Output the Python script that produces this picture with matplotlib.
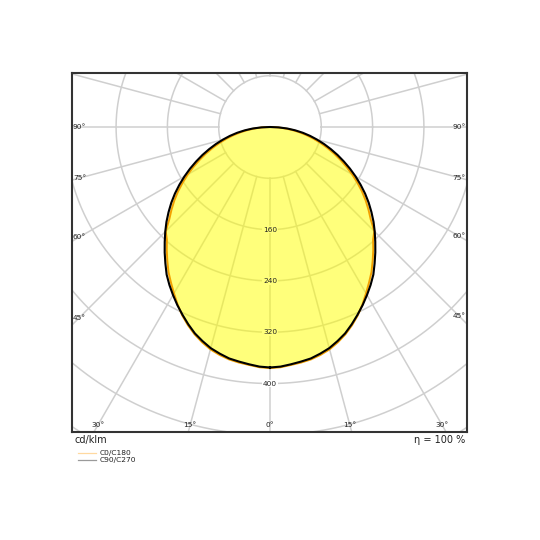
import numpy as np
import matplotlib
matplotlib.use("Agg")
import matplotlib.pyplot as plt

# Data: luminous intensity distribution (cd/klm) vs gamma angle (deg from nadir)
gamma = [0, 2.5, 5, 7.5, 10, 12.5, 15, 17.5, 20, 22.5, 25, 27.5, 30, 32.5, 35, 37.5,
         40, 42.5, 45, 47.5, 50, 52.5, 55, 57.5, 60, 62.5, 65, 67.5, 70, 72.5, 75,
         77.5, 80, 82.5, 85, 87.5, 90]
c0_c180 = [376, 375, 372.5, 370.5, 368, 364, 359, 352, 344, 334.5, 324, 312, 299.5, 287.5,
           276, 263, 250.5, 238, 230, 213, 200.5, 188, 175, 161.5, 148, 134.5, 121, 108,
           95, 82.5, 70, 58, 46, 34, 22, 10.5, 0]
c90_c270 = [375, 374, 371.5, 369, 366.5, 362, 357, 350, 342.5, 333, 323, 313, 302.5, 292,
            281, 268, 255.5, 243, 231, 219, 206.5, 194, 181, 167.5, 154, 140.5, 127, 114,
            101, 88.5, 76, 64, 52, 39.5, 27, 13.5, 0]
radius_ticks = [160, 240, 320, 400]
grid_radii = [80, 160, 240, 320, 400, 480, 560, 640]
side_labels = [90, 75, 60, 45]
bottom_labels = [30, 15, 0, 15, 30]
unit_label = "cd/klm"
eta_label = "η = 100 %"
legend_names = ["C0/C180", "C90/C270"]

W = H = 540
fig = plt.figure(figsize=(5.4, 5.4), dpi=100)
L, R, T, B = 72.0, 466.7, 72.7, 432.3
ax = fig.add_axes([L / W, 1 - B / H, (R - L) / W, (B - T) / H])
cx, cy = 270.0, 127.0
s = 0.6413  # px per cd/klm
xmin, xmax = (L - cx) / s, (R - cx) / s
ymin, ymax = -(B - cy) / s, (cy - T) / s
ax.set_xlim(xmin, xmax)
ax.set_ylim(ymin, ymax)
ax.set_xticks([])
ax.set_yticks([])
for sp in ax.spines.values():
    sp.set_color("#333333")
    sp.set_linewidth(1.5)
    sp.set_zorder(10)

gcol = "#cfcfcf"
t = np.linspace(0, 2 * np.pi, 721)
for r in grid_radii:
    ax.plot(r * np.cos(t), r * np.sin(t), color=gcol, lw=1.1, zorder=1)
for a in range(0, 360, 15):
    ar = np.deg2rad(a)
    ax.plot([80 * np.sin(ar), 900 * np.sin(ar)], [-80 * np.cos(ar), -900 * np.cos(ar)],
            color=gcol, lw=1.1, zorder=1)

# radius labels: white patch under the fill, text on top
tcol = "#222222"
for r in radius_ticks:
    ax.text(0, -r, str(r), fontsize=5.3, ha="center", va="center", color="white", zorder=2,
            bbox=dict(facecolor="white", edgecolor="none", pad=0.6))
    ax.text(0, -r, str(r), fontsize=5.3, ha="center", va="center", color=tcol, zorder=8)

# angle labels at inset box
ix = 7.5 / s
iy = 7.0 / s
for a in side_labels:
    ar = np.deg2rad(a)
    xe = xmin + ix
    yv = xe / np.tan(ar) if a != 90 else 0.0
    ax.text(xe, yv, f"{a}°", fontsize=5.3, ha="center", va="center", color=tcol, zorder=3)
    xe2 = xmax - ix
    yv2 = -xe2 / np.tan(ar) if a != 90 else 0.0
    ax.text(xe2, yv2, f"{a}°", fontsize=5.3, ha="center", va="center", color=tcol, zorder=3)
ye = ymin + iy
signs = [-1, -1, 0, 1, 1]
for a, sg in zip(bottom_labels, signs):
    ar = np.deg2rad(a)
    xv = sg * (-ye) * np.tan(ar)
    ax.text(xv, ye, f"{a}°", fontsize=5.3, ha="center", va="center", color=tcol, zorder=3)

def closed_curve(vals):
    g = np.deg2rad(np.array(gamma, dtype=float))
    v = np.array(vals, dtype=float)
    xr, yr = v * np.sin(g), -v * np.cos(g)
    x = np.concatenate([xr, -xr[::-1]])
    y = np.concatenate([yr, yr[::-1]])
    return x, y

x90, y90 = closed_curve(c90_c270)
x0, y0 = closed_curve(c0_c180)
ax.fill(x90, y90, color="#ffff00", alpha=0.12, lw=0, zorder=4)
ax.fill(x0, y0, color="#ffff00", alpha=0.45, lw=0, zorder=4)
ax.plot(x0, y0, color="#f2a000", lw=1.4, zorder=5, solid_joinstyle="round")
ax.plot(x90, y90, color="#000000", lw=1.5, zorder=6, solid_joinstyle="round")

# outside texts
fig.text(74.5 / W, 1 - 440 / H, unit_label, fontsize=7, ha="left", va="center", color=tcol)
fig.text(465 / W, 1 - 440 / H, eta_label, fontsize=7, ha="right", va="center", color=tcol)
leg_cols = ["#ffd9a0", "#9a9a9a"]
for i, (name, col) in enumerate(zip(legend_names, leg_cols)):
    yy = 1 - (452.7 + 7.5 * i) / H
    fig.add_artist(plt.Line2D([77.5 / W, 96 / W], [yy, yy], color=col, lw=0.9))
    fig.text(99.3 / W, yy, name, fontsize=5.4, ha="left", va="center", color=tcol)

fig.savefig("out.png", dpi=100)
